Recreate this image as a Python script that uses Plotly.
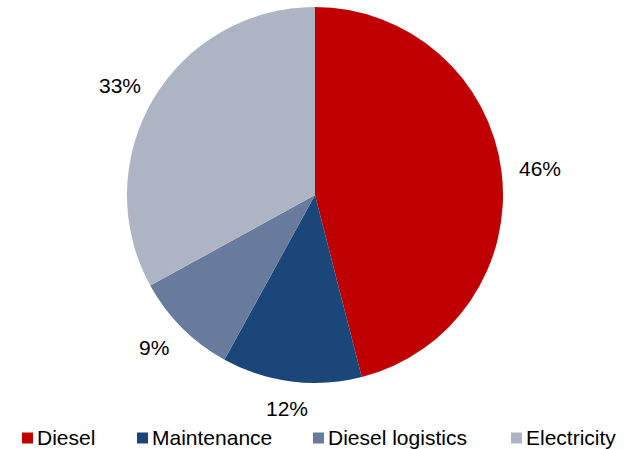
import math
import plotly.graph_objects as go

# Share of cost by component
categories = ["Diesel", "Maintenance", "Diesel logistics", "Electricity"]
shares = [46, 12, 9, 33]
colors = ["#C00000", "#1A4679", "#687B9C", "#ADB5C5"]

W, H = 630, 449
margin = dict(l=0, r=0, t=7, b=66)
FONT = "Liberation Sans, Arial, sans-serif"

fig = go.Figure(
    go.Pie(
        labels=categories,
        values=shares,
        marker=dict(colors=colors, line=dict(width=0)),
        sort=False,
        direction="clockwise",
        rotation=0,
        textinfo="none",
        hoverinfo="label+percent",
        showlegend=False,
    )
)

plot_w = W - margin["l"] - margin["r"]
plot_h = H - margin["t"] - margin["b"]
radius = min(plot_w, plot_h) / 2


def px_to_paper(px, py):
    return (px - margin["l"]) / plot_w, (H - margin["b"] - py) / plot_h


# Percentage labels placed outside each slice, at the slice's mid-angle
total = sum(shares)
annotations = []
start = 0.0
for cat, v in zip(categories, shares):
    mid = (start + v / 2) / total * 2 * math.pi
    start += v
    dist = radius + 17
    dx = dist * math.sin(mid) + 22 * math.sin(mid)
    dy = dist * math.cos(mid) + 10 * math.cos(mid)
    annotations.append(
        dict(
            x=0.5 + dx / plot_w,
            y=0.5 + dy / plot_h,
            xref="paper",
            yref="paper",
            text=f"{round(v / total * 100)}%",
            showarrow=False,
            xanchor="center",
            yanchor="middle",
            font=dict(size=21, color="#000000", family=FONT),
        )
    )

# Legend row along the bottom: colour square followed by the category name
legend_left = [22, 137, 313, 511]
legend_cy = 438
sq = 11
shapes = []
for cat, col, lx in zip(categories, colors, legend_left):
    x0, y0 = px_to_paper(lx, legend_cy + sq / 2)
    x1, y1 = px_to_paper(lx + sq, legend_cy - sq / 2)
    shapes.append(
        dict(type="rect", xref="paper", yref="paper", x0=x0, y0=y0, x1=x1, y1=y1,
             fillcolor=col, line=dict(width=0))
    )
    tx, ty = px_to_paper(lx + sq + 3, legend_cy)
    annotations.append(
        dict(
            x=tx, y=ty, xref="paper", yref="paper", text=cat, showarrow=False,
            xanchor="left", yanchor="middle", xshift=0,
            font=dict(size=21, color="#000000", family=FONT),
            borderpad=0,
        )
    )

fig.update_layout(
    width=W,
    height=H,
    margin=margin,
    paper_bgcolor="white",
    plot_bgcolor="white",
    font=dict(family=FONT, size=21, color="#000000"),
    annotations=annotations,
    shapes=shapes,
    showlegend=False,
)

fig.write_html("out.html")
